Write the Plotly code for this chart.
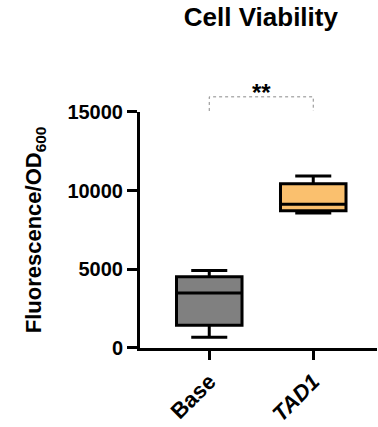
import plotly.graph_objects as go

# ---- data ----
categories = ["Base", "<i>TAD1</i>"]
positions = [0, 1]
lower_fence = [680, 8580]
q1 = [1440, 8720]
median = [3490, 9130]
q3 = [4520, 10430]
upper_fence = [4920, 10930]
fill_colors = ["#808080", "#FAC06E"]
y_ticks = [0, 5000, 10000, 15000]
sig_label = "**"
bracket_y = [15060, 15960, 15960, 15060]
bracket_x = [0, 0, 1, 1]

FONT = "Arial, Liberation Sans, sans-serif"

fig = go.Figure()
for i in range(len(categories)):
    fig.add_trace(go.Box(
        x=[positions[i]], q1=[q1[i]], median=[median[i]], q3=[q3[i]],
        lowerfence=[lower_fence[i]], upperfence=[upper_fence[i]],
        fillcolor=fill_colors[i], line=dict(color="black", width=3),
        width=0.63, whiskerwidth=0.55, boxpoints=False, showlegend=False,
        hoverinfo="skip",
    ))

# significance bracket in a thin strip subplot above the main one
fig.add_trace(go.Scatter(
    x=bracket_x, y=bracket_y, mode="lines", xaxis="x", yaxis="y2",
    line=dict(color="#8a8a8a", width=1, dash="dot"), showlegend=False,
    hoverinfo="skip",
))

W, H = 378, 427
top, bottom = 80, 70
plot_h = H - top - bottom
main_top = (357 - 113) / plot_h

fig.update_layout(
    width=W, height=H,
    margin=dict(l=140, r=1, t=top, b=bottom),
    plot_bgcolor="white", paper_bgcolor="white",
    font=dict(family=FONT, color="black"),
    title=dict(text="<b>Cell Viability</b>", font=dict(size=26, family=FONT),
               x=0.51, xref="paper", xanchor="center",
               y=1 - 17 / H, yref="container", yanchor="middle"),
    xaxis=dict(range=[-0.666, 1.613], tickvals=positions,
               ticktext=["<b>" + c + "</b>" for c in categories],
               tickangle=-45, tickfont=dict(size=22, family=FONT),
               showline=True, linecolor="black", linewidth=3,
               ticks="outside", ticklen=9, tickwidth=2.5, tickcolor="black",
               showgrid=False, zeroline=False, anchor="y"),
    yaxis=dict(range=[0, 15000], domain=[0, main_top], tickvals=y_ticks,
               ticktext=["<b>%d</b>" % v for v in y_ticks],
               tickfont=dict(size=20, family=FONT),
               showline=True, linecolor="black", linewidth=3,
               ticks="outside", ticklen=10, tickwidth=3, tickcolor="black",
               showgrid=False, zeroline=False,
               title=dict(text="<b>Fluorescence/OD<sub>600</sub></b>",
                          font=dict(size=22, family=FONT), standoff=20)),
    yaxis2=dict(domain=[main_top, 1], range=[15000, 15000 + 33 / 16.25 * 1000],
                visible=False, anchor="x"),
)

fig.add_annotation(text="<b>" + sig_label + "</b>", x=0.5, y=16246, xref="x", yref="y2",
                   showarrow=False, font=dict(size=24, family=FONT),
                   yanchor="middle")

fig.write_html(
    "out.html",
    config={"displayModeBar": False},
    post_script="document.body.style.margin='0px';document.body.style.overflow='hidden';",
)
